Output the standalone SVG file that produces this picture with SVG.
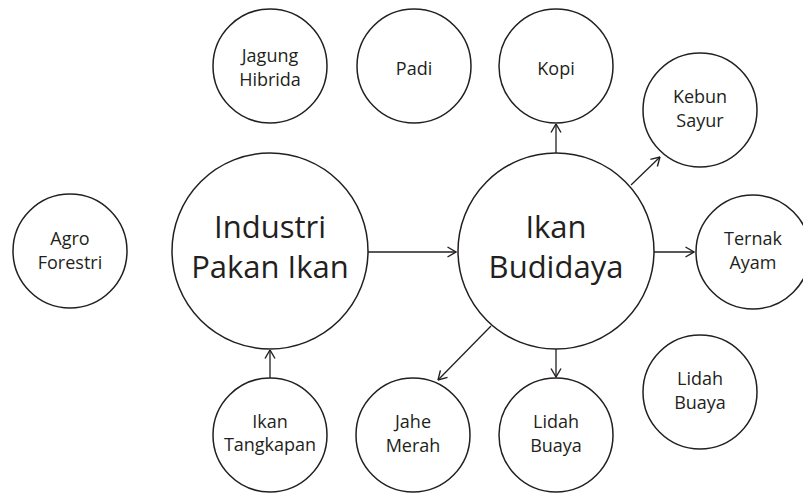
<svg xmlns="http://www.w3.org/2000/svg" width="803" height="493" viewBox="0 0 803 493">
<defs>
<style>
.n{fill:#fff;stroke:#231f20;stroke-width:1.5}
.s{font-family:"Open Sans","Liberation Sans",sans-serif;font-size:18px;fill:#231f20;text-anchor:middle}
.b{font-family:"Open Sans","Liberation Sans",sans-serif;font-size:31px;fill:#231f20;text-anchor:middle}
.c{stroke:#231f20;stroke-width:1.3;fill:none;marker-end:url(#arr)}
</style>
<marker id="arr" viewBox="0 0 10 12" refX="9.5" refY="6" markerWidth="10" markerHeight="12" markerUnits="userSpaceOnUse" orient="auto">
<path d="M1,1 L9.5,6 L1,11" fill="none" stroke="#231f20" stroke-width="1.4"/>
</marker>
</defs>
<rect width="803" height="493" fill="#fff"/>
<g id="connectors">
<line class="c" x1="368" y1="252" x2="456" y2="252"/>
<line class="c" x1="556" y1="153" x2="556" y2="124"/>
<line class="c" x1="631" y1="185" x2="660" y2="157"/>
<line class="c" x1="654" y1="252" x2="694" y2="252"/>
<line class="c" x1="556" y1="349" x2="556" y2="377"/>
<line class="c" x1="491" y1="326" x2="438" y2="380"/>
<line class="c" x1="270" y1="378" x2="270" y2="350"/>
</g>
<g id="jagung-hibrida"><circle class="n" cx="270" cy="66" r="57"/><text class="s" x="270" y="62">Jagung</text><text class="s" x="270" y="86">Hibrida</text></g>
<g id="padi"><circle class="n" cx="414" cy="66" r="57"/><text class="s" x="414" y="75">Padi</text></g>
<g id="kopi"><circle class="n" cx="556" cy="66" r="57"/><text class="s" x="556" y="75">Kopi</text></g>
<g id="kebun-sayur"><circle class="n" cx="700" cy="110" r="57"/><text class="s" x="700" y="103">Kebun</text><text class="s" x="700" y="127">Sayur</text></g>
<g id="agro-forestri"><circle class="n" cx="70" cy="251" r="57"/><text class="s" x="70" y="245">Agro</text><text class="s" x="70" y="269">Forestri</text></g>
<g id="industri-pakan-ikan"><circle class="n" cx="270" cy="251" r="98"/><text class="b" x="270" y="238">Industri</text><text class="b" x="270" y="278">Pakan Ikan</text></g>
<g id="ikan-budidaya"><circle class="n" cx="556" cy="251" r="98"/><text class="b" x="556" y="238">Ikan</text><text class="b" x="556" y="278">Budidaya</text></g>
<g id="ternak-ayam"><circle class="n" cx="753" cy="252" r="57"/><text class="s" x="753" y="245">Ternak</text><text class="s" x="753" y="269">Ayam</text></g>
<g id="lidah-buaya-right"><circle class="n" cx="700" cy="392" r="57"/><text class="s" x="700" y="385">Lidah</text><text class="s" x="700" y="409">Buaya</text></g>
<g id="ikan-tangkapan"><circle class="n" cx="270" cy="435" r="57"/><text class="s" x="270" y="428">Ikan</text><text class="s" x="270" y="451">Tangkapan</text></g>
<g id="jahe-merah"><circle class="n" cx="413" cy="435" r="57"/><text class="s" x="413" y="428">Jahe</text><text class="s" x="413" y="452">Merah</text></g>
<g id="lidah-buaya-bottom"><circle class="n" cx="556" cy="435" r="57"/><text class="s" x="556" y="428">Lidah</text><text class="s" x="556" y="452">Buaya</text></g>
</svg>
